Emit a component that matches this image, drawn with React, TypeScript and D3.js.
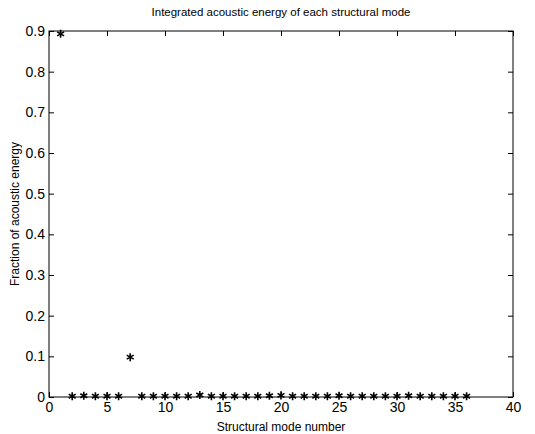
import React, { useEffect, useRef } from "react";
import * as d3 from "d3";

// mode numbers and their fraction of acoustic energy
const modes = [1, 2, 3, 4, 5, 6, 7, 8, 9, 10, 11, 12, 13, 14, 15, 16, 17, 18, 19, 20, 21, 22, 23, 24, 25, 26, 27, 28, 29, 30, 31, 32, 33, 34, 35, 36];
const energy = [0.893, 0.002, 0.003, 0.002, 0.002, 0.002, 0.098, 0.002, 0.002, 0.002, 0.002, 0.002, 0.005, 0.002, 0.002, 0.002, 0.002, 0.002, 0.003, 0.004, 0.002, 0.002, 0.002, 0.002, 0.003, 0.002, 0.002, 0.002, 0.002, 0.002, 0.003, 0.002, 0.002, 0.002, 0.002, 0.002];
const xTicks = [0, 5, 10, 15, 20, 25, 30, 35, 40];
const yTicks = [0, 0.1, 0.2, 0.3, 0.4, 0.5, 0.6, 0.7, 0.8, 0.9];

const W = 535, H = 434;

const App = () => {
    const ref = useRef<SVGSVGElement>(null);

    useEffect(() => {
        const svg = d3.select(ref.current);
        svg.selectAll("*").remove();

        const margin = { top: 31, right: 22, bottom: 37, left: 49 };
        const width = W - margin.left - margin.right,
            height = H - margin.top - margin.bottom;

        const x = d3.scaleLinear().domain([0, 40]).range([0, width]);
        const y = d3.scaleLinear().domain([0, 0.9]).range([height, 0]);

        const g = svg.append("g").attr("transform", `translate(${margin.left},${margin.top})`);
        const font = "Arial, 'Liberation Sans', sans-serif";

        g.append("rect")
            .attr("width", width).attr("height", height)
            .attr("fill", "white").attr("stroke", "#000").attr("stroke-width", 1);

        // inward ticks on all four sides, like matlab's box
        const tick = 5;
        const styleAxis = (a: any) => {
            a.select(".domain").remove();
            a.selectAll("text").attr("font-family", font).attr("font-size", 14).attr("fill", "#000");
            a.selectAll("line").attr("stroke", "#000");
        };

        g.append("g").attr("transform", `translate(0,${height})`)
            .call(d3.axisBottom(x).tickValues(xTicks).tickSize(-tick).tickPadding(5).tickFormat(d3.format("d")))
            .call(styleAxis);
        g.append("g")
            .call(d3.axisTop(x).tickValues(xTicks).tickSize(-tick).tickFormat(() => ""))
            .call(styleAxis);
        g.append("g")
            .call(d3.axisLeft(y).tickValues(yTicks).tickSize(-tick).tickPadding(4).tickFormat(d => (d === 0 ? "0" : d3.format(".1f")(d as number))))
            .call(styleAxis);
        g.append("g").attr("transform", `translate(${width},0)`)
            .call(d3.axisRight(y).tickValues(yTicks).tickSize(-tick).tickFormat(() => ""))
            .call(styleAxis);

        // star markers
        const star = d3.symbol().type(d3.symbolAsterisk).size(45);
        g.selectAll(".pt")
            .data(modes)
            .enter()
            .append("path")
            .attr("class", "pt")
            .attr("d", star)
            .attr("transform", (d, i) => `translate(${x(d)},${y(energy[i])})`)
            .attr("fill", "none")
            .attr("stroke", "#000")
            .attr("stroke-width", 1.6);

        svg.append("text")
            .attr("x", margin.left + width / 2).attr("y", 16)
            .attr("text-anchor", "middle")
            .attr("font-family", font).attr("font-size", 11.5)
            .text("Integrated acoustic energy of each structural mode");

        svg.append("text")
            .attr("x", margin.left + width / 2).attr("y", H - 3)
            .attr("text-anchor", "middle")
            .attr("font-family", font).attr("font-size", 12)
            .text("Structural mode number");

        svg.append("text")
            .attr("transform", `translate(19,${margin.top + height / 2}) rotate(-90)`)
            .attr("text-anchor", "middle")
            .attr("font-family", font).attr("font-size", 12)
            .text("Fraction of acoustic energy");
    }, []);

    return <svg ref={ref} width={W} height={H} style={{ position: "absolute", left: 0, top: 0, background: "white" }} />;
};

export default App;
